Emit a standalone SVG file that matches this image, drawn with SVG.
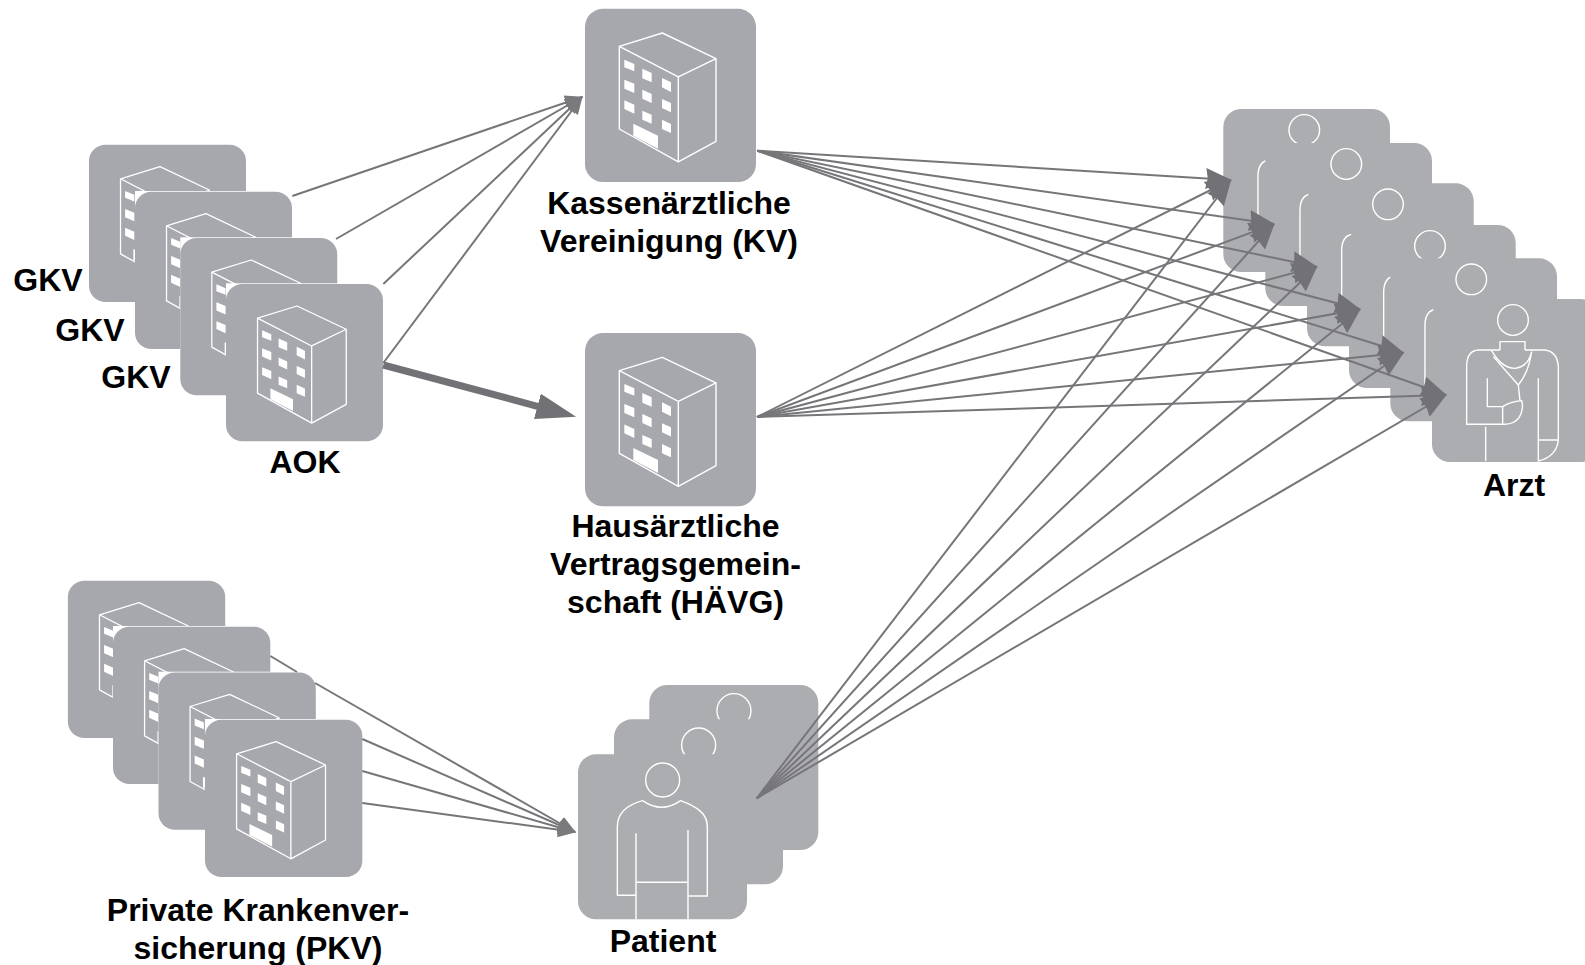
<svg xmlns="http://www.w3.org/2000/svg" xmlns:xlink="http://www.w3.org/1999/xlink" width="1585" height="965" viewBox="0 0 1585 965">
<style>
.lbl{font-family:"Liberation Sans",Arial,sans-serif;font-weight:700;font-size:32px;fill:#000;text-anchor:middle}
.card{fill:#a7a8ae}
.card2{fill:#acadb0}
.mask{fill:#fff}
.ln{fill:none;stroke:#fff;stroke-width:4.2;stroke-linejoin:round}
.win{fill:#fff}
.c{fill:none;stroke:#76767a;stroke-width:2}
.ck{fill:none;stroke:#727176;stroke-width:7}
</style>
<defs>
<marker id="aL" markerUnits="userSpaceOnUse" markerWidth="32" markerHeight="26" refX="25" refY="13" orient="auto"><path d="M0 2.5 L26 13 L0 23.5 L2 13 Z" fill="#727176"/></marker>
<marker id="aM" markerUnits="userSpaceOnUse" markerWidth="24" markerHeight="18" refX="17" refY="9" orient="auto"><path d="M0 1.5 L18 9 L0 16.5 Z" fill="#7a7a7e"/></marker>
<marker id="aB" markerUnits="userSpaceOnUse" markerWidth="46" markerHeight="30" refX="1" refY="15" orient="auto"><path d="M0 2 L40 15 L0 28 Z" fill="#727176"/></marker>
<g id="bld">
<rect class="mask" width="171" height="174"/>
<rect class="card" y="0.8" width="171" height="173.2" rx="18"/>
<g transform="scale(.3333) translate(-45,-25)">
<path class="ln" d="M148 140 L277 100 L438 177 V425 L325 487 L148 388 Z M148 140 L325 232 L438 177 M325 232 V487"/>
<path class="win" d="M163 180L193 193V215L163 203ZM163 240L193 252V280L163 267ZM163 302L193 315V342L163 328ZM217 207L245 220V248L217 236ZM217 270L245 283V310L217 297ZM217 333L245 345V372L217 360ZM276 235L303 248V277L276 263ZM276 298L303 310V338L276 325ZM276 360L303 373V400L276 388ZM190 372L264 408V447L190 408Z"/>
</g>
</g>
<g id="doc">
<rect class="card2" width="166.7" height="163" rx="18"/>
<g transform="scale(.3333) translate(-696,-597)">
<circle class="ln" cx="939" cy="660" r="46"/>
<path class="ln" d="M900 750V725H975V750M900 750H835Q802 752 800 795V973H910Q955 973 965 935Q970 915 965 902Q930 905 908 920H862V835M908 920V973M975 750H1035Q1072 755 1075 800V1020Q1070 1070 1015 1083V835M1015 1020H1075M875 752Q905 805 945 805Q985 800 995 755M880 770L955 855Q985 820 995 755M955 855L960 902M857 980V1083"/>
</g>
</g>
<g id="pat">
<rect class="card2" width="169" height="165" rx="18"/>
<g transform="scale(.3333) translate(-54,-253)">
<circle class="ln" cx="308" cy="330" r="51"/>
<path class="ln" d="M248 392Q305 432 362 392C410 410 442 430 442 470V678H385M248 392C200 405 172 430 172 470V676H228M228 490V747M384 480V747M228 637H384"/>
</g>
</g>
</defs>
<g id="node-gkv">
<use href="#bld" transform="translate(89,144) scale(.918,.908)"/>
<use href="#bld" transform="translate(135,191) scale(.918,.908)"/>
<use href="#bld" transform="translate(180.3,237.3) scale(.918,.908)"/>
<text class="lbl" x="48" y="291">GKV</text>
<text class="lbl" x="90" y="341">GKV</text>
<text class="lbl" x="136" y="388">GKV</text>
</g>
<g id="node-aok">
<use href="#bld" transform="translate(226,283.3) scale(.918,.908)"/>
<text class="lbl" x="305" y="473">AOK</text>
</g>
<g id="node-kv">
<use href="#bld" transform="translate(585,8)"/>
<text class="lbl" x="669" y="214">Kassenärztliche</text>
<text class="lbl" x="669" y="252">Vereinigung (KV)</text>
</g>
<g id="node-haevg">
<use href="#bld" transform="translate(585,332.3)"/>
<text class="lbl" x="675.5" y="537">Hausärztliche</text>
<text class="lbl" x="675.5" y="575">Vertragsgemein-</text>
<text class="lbl" x="675.5" y="613">schaft (HÄVG)</text>
</g>
<g id="node-pkv">
<use href="#bld" transform="translate(67.9,580) scale(.92,.908)"/>
<use href="#bld" transform="translate(113,626) scale(.92,.908)"/>
<use href="#bld" transform="translate(158.5,671.7) scale(.92,.908)"/>
<use href="#bld" transform="translate(205,719) scale(.92,.908)"/>
<text class="lbl" x="258" y="921">Private Krankenver-</text>
<text class="lbl" x="258" y="959">sicherung (PKV)</text>
</g>
<g id="node-patient">
<use href="#pat" transform="translate(649.3,685)"/>
<use href="#pat" transform="translate(614,719.3)"/>
<use href="#pat" transform="translate(578,754.3)"/>
<text class="lbl" x="663" y="952">Patient</text>
</g>
<g id="node-arzt">
<use href="#doc" transform="translate(1223.3,109)"/>
<use href="#doc" transform="translate(1265.3,143)"/>
<use href="#doc" transform="translate(1307,183.3)"/>
<use href="#doc" transform="translate(1349,225)"/>
<use href="#doc" transform="translate(1390.3,258.3)"/>
<use href="#doc" transform="translate(1432,299)"/>
<text class="lbl" x="1514" y="496">Arzt</text>
</g>
<g id="connectors">
<path class="c" marker-end="url(#aM)" d="M292.3 196L582 97"/>
<path class="c" marker-end="url(#aM)" d="M336 239L582 97"/>
<path class="c" marker-end="url(#aM)" d="M383.3 284L582 97"/>
<path class="c" marker-end="url(#aM)" d="M383.3 363L582 97"/>
<path class="ck" marker-end="url(#aB)" d="M383.3 365L538.4 406.6"/>
<path class="c" marker-end="url(#aM)" d="M270.4 656L297 672M315 683L575 832"/>
<path class="c" marker-end="url(#aM)" d="M362.3 739L575 832"/>
<path class="c" marker-end="url(#aM)" d="M362.3 771L575 832"/>
<path class="c" marker-end="url(#aM)" d="M362.3 803L575 832"/>
<path class="c" marker-end="url(#aL)" d="M757.3 150.7L1230.7 180"/>
<path class="c" marker-end="url(#aL)" d="M757.3 150.7L1274 224"/>
<path class="c" marker-end="url(#aL)" d="M757.3 150.7L1316.7 266.7"/>
<path class="c" marker-end="url(#aL)" d="M757.3 150.7L1360 309.3"/>
<path class="c" marker-end="url(#aL)" d="M757.3 150.7L1403.3 352.7"/>
<path class="c" marker-end="url(#aL)" d="M757.3 150.7L1446 395"/>
<path class="c" marker-end="url(#aL)" d="M757 417L1230.7 180"/>
<path class="c" marker-end="url(#aL)" d="M757 417L1274 224"/>
<path class="c" marker-end="url(#aL)" d="M757 417L1316.7 266.7"/>
<path class="c" marker-end="url(#aL)" d="M757 417L1360 309.3"/>
<path class="c" marker-end="url(#aL)" d="M757 417L1403.3 352.7"/>
<path class="c" marker-end="url(#aL)" d="M757 417L1446 395"/>
<path class="c" marker-end="url(#aL)" d="M756.7 798.3L1230.7 180"/>
<path class="c" marker-end="url(#aL)" d="M756.7 798.3L1274 224"/>
<path class="c" marker-end="url(#aL)" d="M756.7 798.3L1316.7 266.7"/>
<path class="c" marker-end="url(#aL)" d="M756.7 798.3L1360 309.3"/>
<path class="c" marker-end="url(#aL)" d="M756.7 798.3L1403.3 352.7"/>
<path class="c" marker-end="url(#aL)" d="M756.7 798.3L1446 395"/>
</g>
</svg>
